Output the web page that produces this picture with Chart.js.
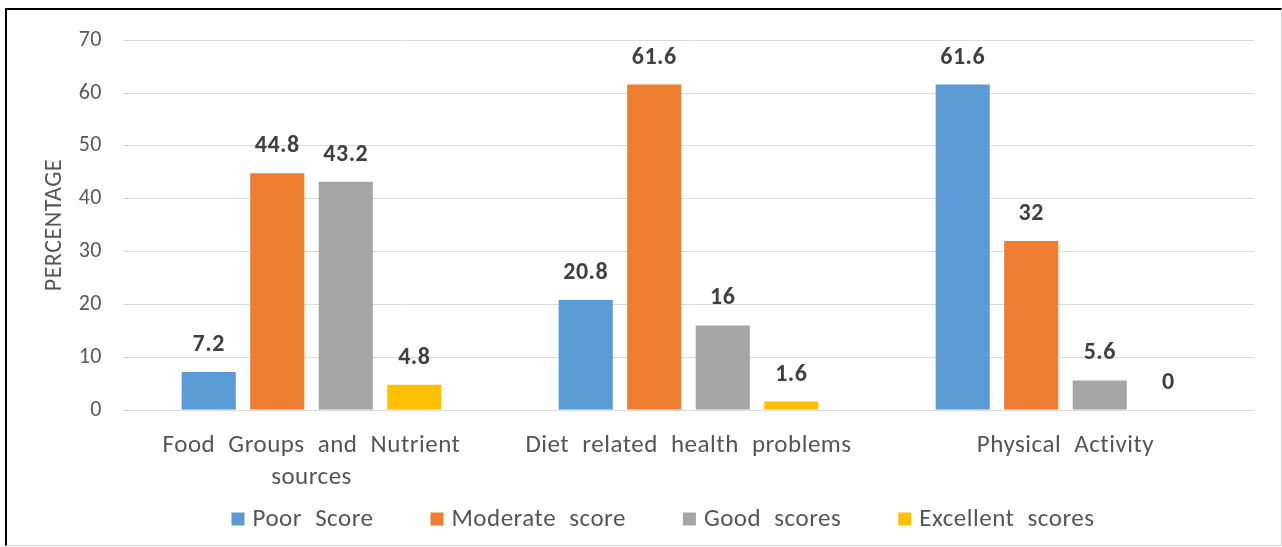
<!DOCTYPE html>
<html>
<head>
<meta charset="utf-8">
<script src="https://cdn.jsdelivr.net/npm/chart.js@4.4.1/dist/chart.umd.min.js"></script>
<style>
  html, body { margin: 0; padding: 0; background: #fff; }
  body { width: 1282px; height: 547px; position: relative; overflow: hidden; }
  #c { position: absolute; left: 7px; top: 6px; display: block; }
  #frame {
    position: absolute; left: 5px; top: 8px; width: 1274px; height: 535px;
    border-top: 2px solid #000; border-left: 2px solid #000;
    border-right: 1px solid #d4d4d4; border-bottom: 1px solid #d4d4d4;
    pointer-events: none;
  }
</style>
</head>
<body>
<canvas id="c" width="1274" height="539"></canvas>
<div id="frame"></div>
<script>
const categories = [["Food Groups and Nutrient", "sources"], "Diet related health problems", "Physical Activity"];
const seriesNames = ["Poor Score", "Moderate score", "Good scores", "Excellent scores"];
const poorScore = [7.2, 20.8, 61.6];
const moderateScore = [44.8, 61.6, 32];
const goodScores = [43.2, 16, 5.6];
const excellentScores = [4.8, 1.6, 0];
const seriesColors = ["#5B9BD5", "#ED7D31", "#A5A5A5", "#FFC000"];
const yTicks = [0, 10, 20, 30, 40, 50, 60, 70];

const FONT = "Carlito, Lato, sans-serif";
const TEXT_COLOR = '#555555';

function setSpacing(ctx) {
  ctx.letterSpacing = '0.5px';
  ctx.wordSpacing = '7px';
}
const spacingPlugin = {
  id: 'spacing',
  beforeInit(chart) { setSpacing(chart.ctx); },
  beforeUpdate(chart) { setSpacing(chart.ctx); },
  beforeLayout(chart) { setSpacing(chart.ctx); },
  beforeDraw(chart) { setSpacing(chart.ctx); }
};

const valueLabels = {
  id: 'valueLabels',
  afterDatasetsDraw(chart) {
    const ctx = chart.ctx;
    ctx.save();
    ctx.font = "bold 24px " + FONT;
    ctx.fillStyle = "#404040";
    ctx.textAlign = "center";
    ctx.textBaseline = "middle";
    chart.data.datasets.forEach((ds, i) => {
      const meta = chart.getDatasetMeta(i);
      meta.data.forEach((el, j) => {
        ctx.fillText(String(ds.data[j]), el.x, el.y - 27);
      });
    });
    ctx.restore();
  }
};

// Legend drawn from the chart's own dataset labels and colours
const bottomLegend = {
  id: 'bottomLegend',
  afterDraw(chart) {
    const ctx = chart.ctx;
    ctx.save();
    setSpacing(ctx);
    ctx.font = "25px " + FONT;
    ctx.textBaseline = "middle";
    ctx.textAlign = "left";
    const box = 13, gapText = 8, gapItem = 57;
    const items = chart.data.datasets.map(ds => ({ text: ds.label, color: ds.backgroundColor, w: ctx.measureText(ds.label).width }));
    let total = items.reduce((s, it) => s + box + gapText + it.w, 0) + gapItem * (items.length - 1);
    let x = 656 - total / 2;
    const cy = 513;
    items.forEach(it => {
      ctx.fillStyle = it.color;
      ctx.fillRect(x, cy - box / 2, box, box);
      ctx.fillStyle = TEXT_COLOR;
      ctx.fillText(it.text, x + box + gapText, cy + 1);
      x += box + gapText + it.w + gapItem;
    });
    ctx.restore();
  }
};

const dataSeries = [poorScore, moderateScore, goodScores, excellentScores];

new Chart(document.getElementById('c'), {
  type: 'bar',
  data: {
    labels: categories,
    datasets: dataSeries.map((d, i) => ({
      label: seriesNames[i],
      data: d,
      backgroundColor: seriesColors[i],
      borderWidth: 0,
      categoryPercentage: 0.727,
      barPercentage: 0.79
    }))
  },
  options: {
    responsive: false,
    animation: false,
    devicePixelRatio: 1,
    layout: { padding: { left: 26, right: 27, top: 9, bottom: 35 } },
    plugins: {
      tooltip: { enabled: false },
      legend: { display: false }
    },
    scales: {
      x: {
        grid: { display: false },
        border: { display: false },
        ticks: { font: { family: FONT, size: 25, lineHeight: 1.28 }, color: TEXT_COLOR, padding: 12 },
        afterFit(scale) { scale.height = 100; }
      },
      y: {
        min: 0, max: 70,
        afterBuildTicks(scale) { scale.ticks = yTicks.map(v => ({ value: v })); },
        grid: { color: '#D9D9D9', lineWidth: 1, drawTicks: false },
        border: { display: false },
        ticks: { font: { family: FONT, size: 22 }, color: '#595959', padding: 21 },
        title: { display: true, text: 'PERCENTAGE', font: { family: FONT, size: 24 }, color: TEXT_COLOR, padding: 8 },
        afterFit(scale) { scale.width = 90; }
      }
    }
  },
  plugins: [spacingPlugin, valueLabels, bottomLegend]
});
</script>
</body>
</html>
